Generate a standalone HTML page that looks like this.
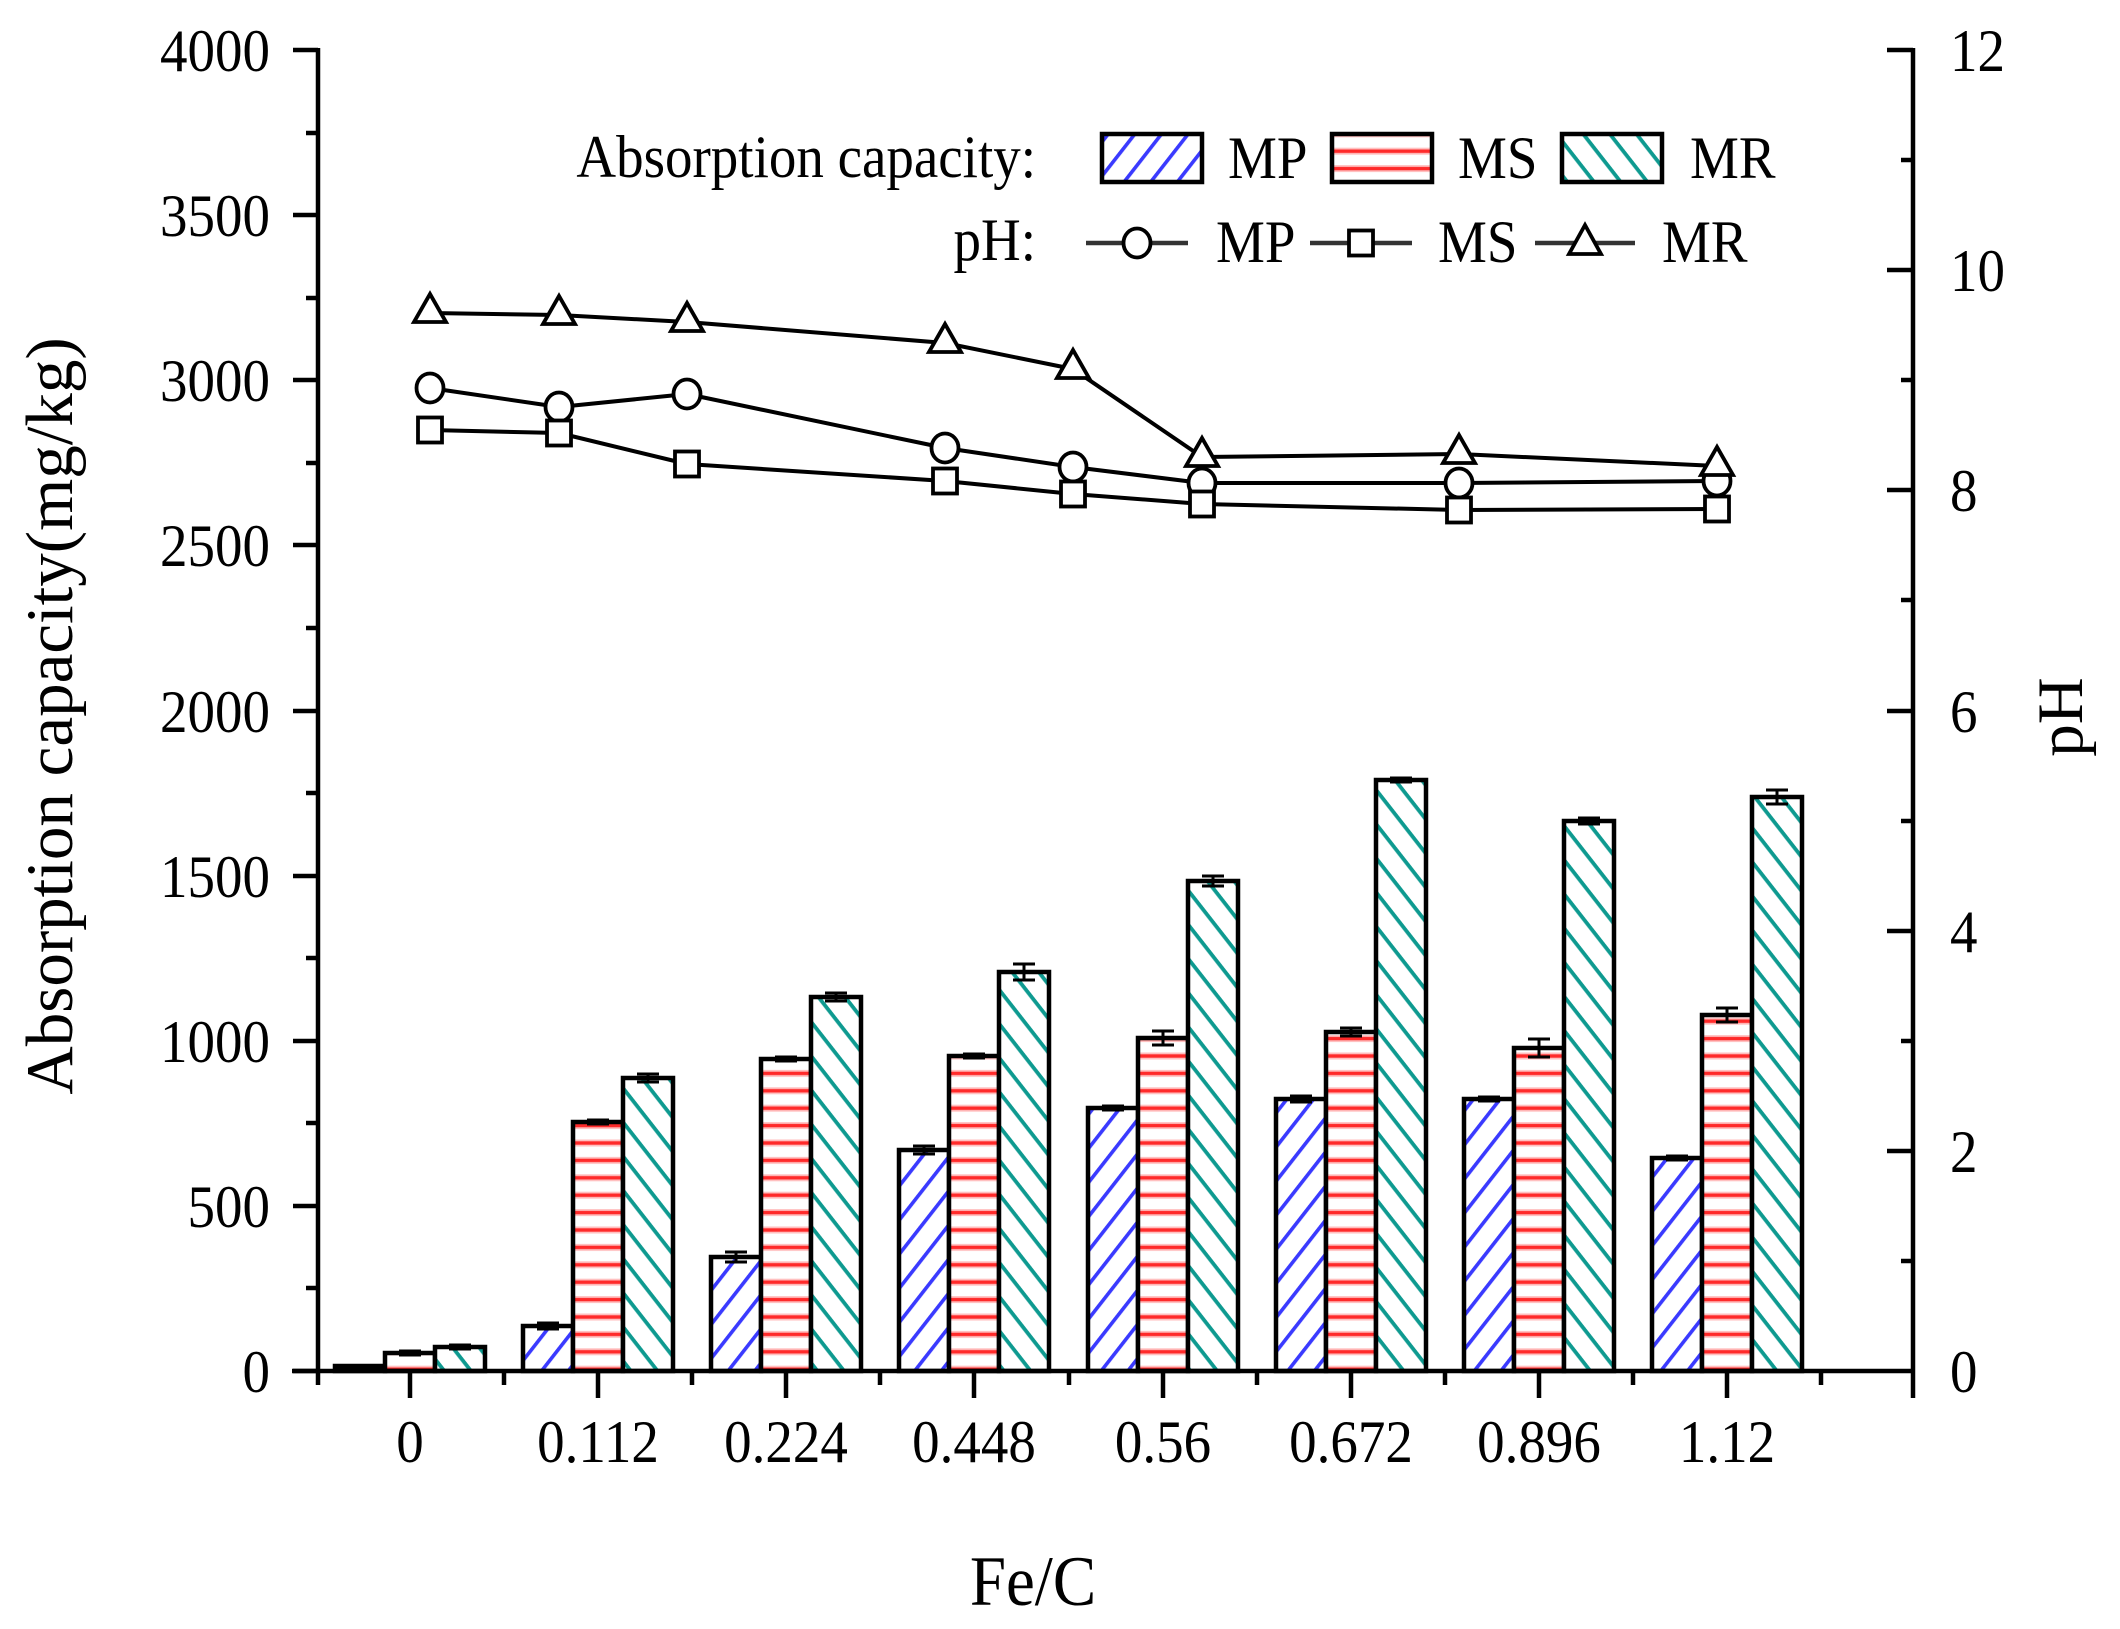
<!DOCTYPE html>
<html>
<head>
<meta charset="utf-8">
<style>
html,body{margin:0;padding:0;background:#fff;}
svg{display:block;}
text{font-family:"Liberation Serif","Times New Roman",serif;fill:#000;}
</style>
</head>
<body>
<svg width="2120" height="1629" viewBox="0 0 2120 1629" xmlns="http://www.w3.org/2000/svg">
<defs>
  <pattern id="pMP" patternUnits="userSpaceOnUse" width="40" height="21" patternTransform="rotate(-52)">
    <rect x="0" y="0" width="40" height="21" fill="#fff"/>
    <rect x="0" y="9" width="40" height="3.6" fill="#3a3aff"/>
  </pattern>
  <pattern id="pMR" patternUnits="userSpaceOnUse" width="40" height="21" patternTransform="rotate(52)">
    <rect x="0" y="0" width="40" height="21" fill="#fff"/>
    <rect x="0" y="9" width="40" height="3.8" fill="#0e9a90"/>
  </pattern>
  <pattern id="pMS" patternUnits="userSpaceOnUse" width="40" height="17.4" y="3">
    <rect x="0" y="0" width="40" height="17.4" fill="#fff"/>
    <rect x="0" y="5.5" width="40" height="7" fill="#ffc0c0"/>
    <rect x="0" y="7.3" width="40" height="3.4" fill="#ff2a2a"/>
  </pattern>
</defs>

<!-- Bars -->
<g stroke="#000" stroke-width="4.5">
  <rect x="335" y="1366" width="50" height="5" fill="#000"/>
  <rect x="385" y="1353" width="50" height="18" fill="url(#pMS)"/>
  <rect x="435" y="1347" width="50" height="24" fill="url(#pMR)"/>
  <rect x="523" y="1326" width="50" height="45" fill="url(#pMP)"/>
  <rect x="573" y="1122" width="50" height="249" fill="url(#pMS)"/>
  <rect x="623" y="1078" width="50" height="293" fill="url(#pMR)"/>
  <rect x="711" y="1257" width="50" height="114" fill="url(#pMP)"/>
  <rect x="761" y="1059" width="50" height="312" fill="url(#pMS)"/>
  <rect x="811" y="997" width="50" height="374" fill="url(#pMR)"/>
  <rect x="899" y="1150" width="50" height="221" fill="url(#pMP)"/>
  <rect x="949" y="1056" width="50" height="315" fill="url(#pMS)"/>
  <rect x="999" y="972" width="50" height="399" fill="url(#pMR)"/>
  <rect x="1088" y="1108" width="50" height="263" fill="url(#pMP)"/>
  <rect x="1138" y="1038" width="50" height="333" fill="url(#pMS)"/>
  <rect x="1188" y="881" width="50" height="490" fill="url(#pMR)"/>
  <rect x="1276" y="1099" width="50" height="272" fill="url(#pMP)"/>
  <rect x="1326" y="1032" width="50" height="339" fill="url(#pMS)"/>
  <rect x="1376" y="780" width="50" height="591" fill="url(#pMR)"/>
  <rect x="1464" y="1099" width="50" height="272" fill="url(#pMP)"/>
  <rect x="1514" y="1048" width="50" height="323" fill="url(#pMS)"/>
  <rect x="1564" y="821" width="50" height="550" fill="url(#pMR)"/>
  <rect x="1652" y="1158" width="50" height="213" fill="url(#pMP)"/>
  <rect x="1702" y="1015" width="50" height="356" fill="url(#pMS)"/>
  <rect x="1752" y="797" width="50" height="574" fill="url(#pMR)"/>
</g>

<!-- Error bars -->
<g stroke="#000" stroke-width="3" fill="none">
  <path d="M410,1351 V1355 M399,1351 H421 M399,1355 H421"/>
  <path d="M460,1345 V1349 M449,1345 H471 M449,1349 H471"/>
  <path d="M548,1323 V1329 M537,1323 H559 M537,1329 H559"/>
  <path d="M598,1120 V1124 M587,1120 H609 M587,1124 H609"/>
  <path d="M648,1074 V1082 M637,1074 H659 M637,1082 H659"/>
  <path d="M736,1252 V1262 M725,1252 H747 M725,1262 H747"/>
  <path d="M786,1057 V1061 M775,1057 H797 M775,1061 H797"/>
  <path d="M836,993 V1001 M825,993 H847 M825,1001 H847"/>
  <path d="M924,1146 V1154 M913,1146 H935 M913,1154 H935"/>
  <path d="M974,1054 V1058 M963,1054 H985 M963,1058 H985"/>
  <path d="M1024,964 V980 M1013,964 H1035 M1013,980 H1035"/>
  <path d="M1113,1106 V1110 M1102,1106 H1124 M1102,1110 H1124"/>
  <path d="M1163,1031 V1045 M1152,1031 H1174 M1152,1045 H1174"/>
  <path d="M1213,876 V886 M1202,876 H1224 M1202,886 H1224"/>
  <path d="M1301,1096 V1102 M1290,1096 H1312 M1290,1102 H1312"/>
  <path d="M1351,1028 V1036 M1340,1028 H1362 M1340,1036 H1362"/>
  <path d="M1401,778 V782 M1390,778 H1412 M1390,782 H1412"/>
  <path d="M1489,1097 V1101 M1478,1097 H1500 M1478,1101 H1500"/>
  <path d="M1539,1039 V1057 M1528,1039 H1550 M1528,1057 H1550"/>
  <path d="M1589,818 V824 M1578,818 H1600 M1578,824 H1600"/>
  <path d="M1677,1156 V1160 M1666,1156 H1688 M1666,1160 H1688"/>
  <path d="M1727,1008 V1022 M1716,1008 H1738 M1716,1022 H1738"/>
  <path d="M1777,790 V804 M1766,790 H1788 M1766,804 H1788"/>
</g>

<!-- pH lines -->
<g stroke="#000" stroke-width="4" fill="none" stroke-linejoin="round">
  <polyline points="430,313 559,315 687,322 945,343 1073,369 1202,457 1459,454 1717,466"/>
  <polyline points="430,388 559,407 687,394 945,448 1073,467 1202,483 1459,483 1717,481"/>
  <polyline points="430,430 559,433 687,464 945,481 1073,494 1202,504 1459,510 1717,509"/>
</g>
<g stroke="#000" stroke-width="3.8" fill="#fff">
  <path d="M430,294 L446,322 L414,322 Z"/>
  <path d="M559,296 L575,324 L543,324 Z"/>
  <path d="M687,303 L703,331 L671,331 Z"/>
  <path d="M945,324 L961,352 L929,352 Z"/>
  <path d="M1073,350 L1089,378 L1057,378 Z"/>
  <path d="M1202,438 L1218,466 L1186,466 Z"/>
  <path d="M1459,435 L1475,463 L1443,463 Z"/>
  <ellipse cx="430" cy="388" rx="13.5" ry="14.5"/>
  <ellipse cx="559" cy="407" rx="13.5" ry="14.5"/>
  <ellipse cx="687" cy="394" rx="13.5" ry="14.5"/>
  <ellipse cx="945" cy="448" rx="13.5" ry="14.5"/>
  <ellipse cx="1073" cy="467" rx="13.5" ry="14.5"/>
  <ellipse cx="1202" cy="483" rx="13.5" ry="14.5"/>
  <ellipse cx="1459" cy="483" rx="13.5" ry="14.5"/>
  <ellipse cx="1717" cy="481" rx="13.5" ry="14.5"/>
  <path d="M1717,447 L1733,475 L1701,475 Z"/>
  <rect x="418" y="417.5" width="24" height="25"/>
  <rect x="547" y="420.5" width="24" height="25"/>
  <rect x="675" y="451.5" width="24" height="25"/>
  <rect x="933" y="468.5" width="24" height="25"/>
  <rect x="1061" y="481.5" width="24" height="25"/>
  <rect x="1190" y="491.5" width="24" height="25"/>
  <rect x="1447" y="497.5" width="24" height="25"/>
  <rect x="1705" y="496.5" width="24" height="25"/>
</g>

<!-- Axes -->
<g stroke="#000" stroke-width="4.5" fill="none">
  <line x1="318" y1="48" x2="318" y2="1373"/>
  <line x1="1913" y1="48" x2="1913" y2="1398"/>
  <line x1="292" y1="1371" x2="1915" y2="1371"/>
  <path d="M293,50 H318 M293,215 H318 M293,380 H318 M293,545 H318 M293,711 H318 M293,876 H318 M293,1041 H318 M293,1206 H318 M293,1371 H318"/>
  <path d="M306,133 H318 M306,298 H318 M306,463 H318 M306,628 H318 M306,793 H318 M306,958 H318 M306,1123 H318 M306,1288 H318"/>
  <path d="M1887,50 H1913 M1887,270 H1913 M1887,490 H1913 M1887,711 H1913 M1887,931 H1913 M1887,1151 H1913"/>
  <path d="M1901,160 H1913 M1901,380 H1913 M1901,600 H1913 M1901,821 H1913 M1901,1041 H1913 M1901,1261 H1913"/>
  <path d="M410,1371 V1398 M598,1371 V1398 M786,1371 V1398 M974,1371 V1398 M1163,1371 V1398 M1351,1371 V1398 M1539,1371 V1398 M1727,1371 V1398"/>
  <path d="M318,1371 V1385 M504,1371 V1385 M692,1371 V1385 M880,1371 V1385 M1069,1371 V1385 M1257,1371 V1385 M1445,1371 V1385 M1633,1371 V1385 M1821,1371 V1385"/>
</g>

<!-- Left tick labels -->
<g font-size="55" text-anchor="end">
  <text transform="matrix(1,0,0,1.1,270,71)">4000</text>
  <text transform="matrix(1,0,0,1.1,270,236)">3500</text>
  <text transform="matrix(1,0,0,1.1,270,401)">3000</text>
  <text transform="matrix(1,0,0,1.1,270,566)">2500</text>
  <text transform="matrix(1,0,0,1.1,270,732)">2000</text>
  <text transform="matrix(1,0,0,1.1,270,897)">1500</text>
  <text transform="matrix(1,0,0,1.1,270,1062)">1000</text>
  <text transform="matrix(1,0,0,1.1,270,1227)">500</text>
  <text transform="matrix(1,0,0,1.1,270,1392)">0</text>
</g>
<!-- Right tick labels -->
<g font-size="55" text-anchor="start">
  <text transform="matrix(1,0,0,1.1,1950,71)">12</text>
  <text transform="matrix(1,0,0,1.1,1950,291)">10</text>
  <text transform="matrix(1,0,0,1.1,1950,511)">8</text>
  <text transform="matrix(1,0,0,1.1,1950,732)">6</text>
  <text transform="matrix(1,0,0,1.1,1950,952)">4</text>
  <text transform="matrix(1,0,0,1.1,1950,1172)">2</text>
  <text transform="matrix(1,0,0,1.1,1950,1392)">0</text>
</g>
<!-- Bottom tick labels -->
<g font-size="55" text-anchor="middle">
  <text transform="matrix(1,0,0,1.1,410,1462)">0</text>
  <text transform="matrix(1,0,0,1.1,598,1462)">0.112</text>
  <text transform="matrix(1,0,0,1.1,786,1462)">0.224</text>
  <text transform="matrix(1,0,0,1.1,974,1462)">0.448</text>
  <text transform="matrix(1,0,0,1.1,1163,1462)">0.56</text>
  <text transform="matrix(1,0,0,1.1,1351,1462)">0.672</text>
  <text transform="matrix(1,0,0,1.1,1539,1462)">0.896</text>
  <text transform="matrix(1,0,0,1.1,1727,1462)">1.12</text>
</g>

<!-- Axis titles -->
<text transform="matrix(1,0,0,1.1,1033,1605)" font-size="65" text-anchor="middle">Fe/C</text>
<text transform="translate(72,716) rotate(-90)" font-size="67" text-anchor="middle">Absorption capacity(mg/kg)</text>
<text transform="translate(2082,717) rotate(-90)" font-size="65" text-anchor="middle">pH</text>

<!-- Legend -->
<g font-size="55">
  <text transform="matrix(1,0,0,1.1,1036,177)" text-anchor="end">Absorption capacity:</text>
  <text transform="matrix(1,0,0,1.1,1228,178)">MP</text>
  <text transform="matrix(1,0,0,1.1,1458,178)">MS</text>
  <text transform="matrix(1,0,0,1.1,1690,178)">MR</text>
  <text transform="matrix(1,0,0,1.1,1036,260)" text-anchor="end">pH:</text>
  <text transform="matrix(1,0,0,1.1,1216,262)">MP</text>
  <text transform="matrix(1,0,0,1.1,1438,262)">MS</text>
  <text transform="matrix(1,0,0,1.1,1662,262)">MR</text>
</g>
<g stroke="#000" stroke-width="4.5">
  <rect x="1102" y="134" width="100" height="48" fill="url(#pMP)"/>
  <rect x="1332" y="134" width="100" height="48" fill="url(#pMS)"/>
  <rect x="1562" y="134" width="100" height="48" fill="url(#pMR)"/>
</g>
<g stroke="#333" stroke-width="4.5" fill="none">
  <line x1="1086" y1="243" x2="1188" y2="243"/>
  <line x1="1310" y1="243" x2="1412" y2="243"/>
  <line x1="1535" y1="243" x2="1635" y2="243"/>
</g>
<g stroke="#000" stroke-width="3.8" fill="#fff">
  <ellipse cx="1137" cy="243" rx="13.5" ry="14.5"/>
  <rect x="1349" y="230.5" width="24" height="25"/>
  <path d="M1585,225 L1601,254 L1569,254 Z"/>
</g>
</svg>
</body>
</html>
